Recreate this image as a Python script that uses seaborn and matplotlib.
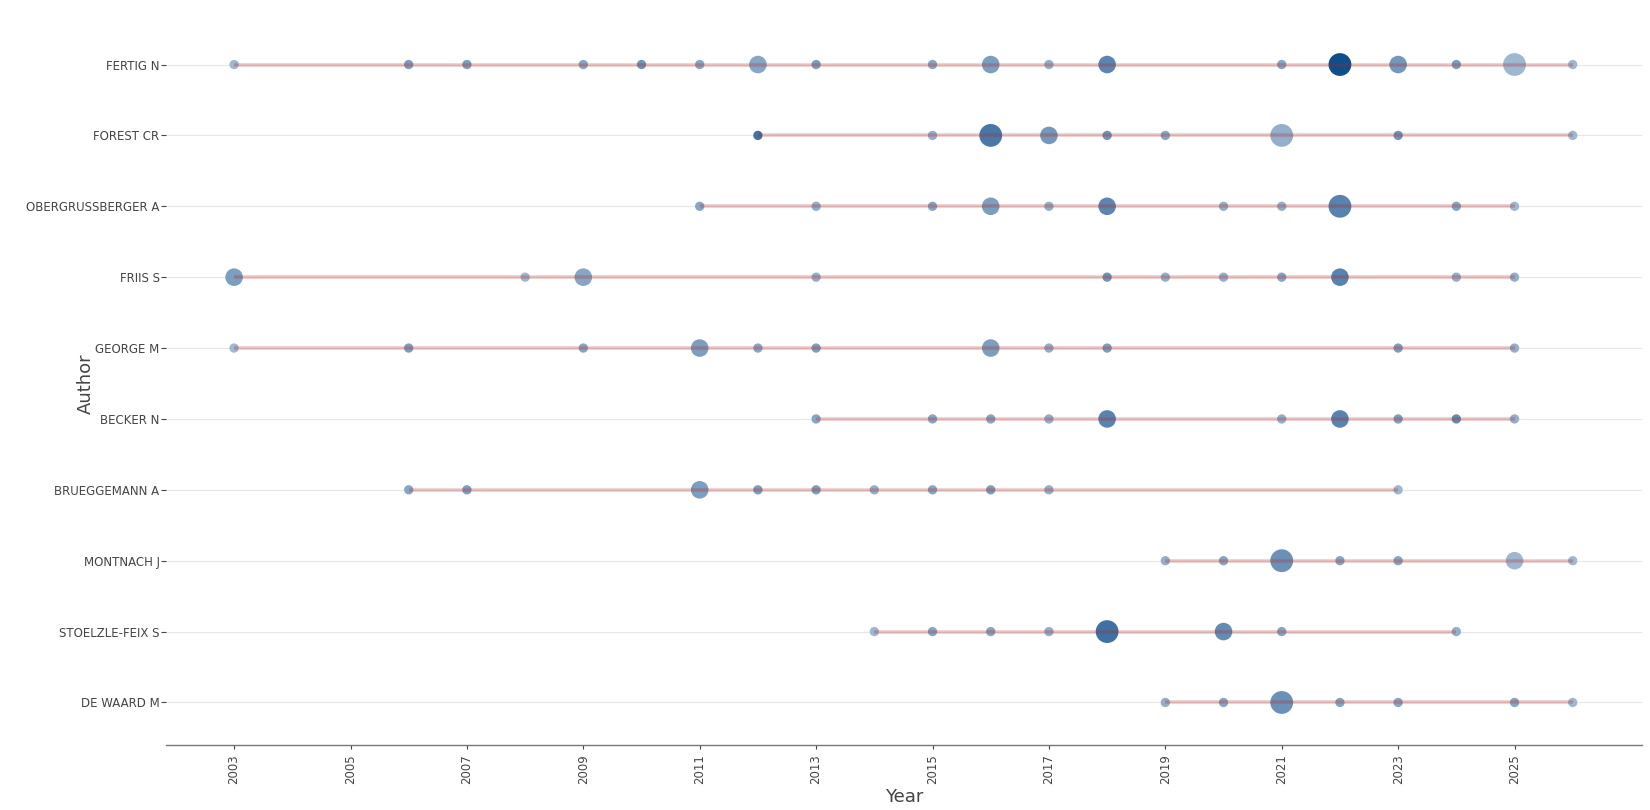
import matplotlib
matplotlib.use("Agg")
import matplotlib.pyplot as plt
from matplotlib.colors import LinearSegmentedColormap
import seaborn as sns
import pandas as pd

# ---------------- data ----------------
authors = ["FERTIG N", "FOREST CR", "OBERGRUSSBERGER A", "FRIIS S", "GEORGE M",
           "BECKER N", "BRUEGGEMANN A", "MONTNACH J", "STOELZLE-FEIX S", "DE WAARD M"]

fertig_years = [2003, 2006, 2007, 2009, 2010, 2011, 2012, 2013, 2015, 2016, 2017, 2018, 2021, 2022, 2023, 2024, 2025, 2026]
fertig_freq  = [1, 1, 1, 1, 1, 1, 2, 1, 1, 2, 1, 2, 1, 3, 2, 1, 3, 1]
fertig_tcpy  = [0.40, 0.55, 0.55, 0.50, 0.60, 0.50, 0.50, 0.55, 0.50, 0.55, 0.45, 0.68, 0.50, 1.00, 0.58, 0.55, 0.40, 0.40]

forest_years = [2012, 2015, 2016, 2017, 2018, 2019, 2021, 2023, 2026]
forest_freq  = [1, 1, 3, 2, 1, 1, 3, 1, 1]
forest_tcpy  = [0.80, 0.45, 0.76, 0.58, 0.60, 0.50, 0.45, 0.60, 0.40]

oberg_years = [2011, 2013, 2015, 2016, 2017, 2018, 2020, 2021, 2022, 2024, 2025]
oberg_freq  = [1, 1, 1, 2, 1, 2, 1, 1, 3, 1, 1]
oberg_tcpy  = [0.50, 0.45, 0.50, 0.55, 0.45, 0.68, 0.45, 0.45, 0.70, 0.50, 0.40]

friis_years = [2003, 2008, 2009, 2013, 2018, 2019, 2020, 2021, 2022, 2024, 2025]
friis_freq  = [2, 1, 2, 1, 1, 1, 1, 1, 2, 1, 1]
friis_tcpy  = [0.55, 0.40, 0.50, 0.45, 0.60, 0.45, 0.45, 0.50, 0.70, 0.45, 0.45]

george_years = [2003, 2006, 2009, 2011, 2012, 2013, 2016, 2017, 2018, 2023, 2025]
george_freq  = [1, 1, 1, 2, 1, 1, 2, 1, 1, 1, 1]
george_tcpy  = [0.40, 0.55, 0.50, 0.55, 0.50, 0.55, 0.55, 0.45, 0.55, 0.55, 0.45]

becker_years = [2013, 2015, 2016, 2017, 2018, 2021, 2022, 2023, 2024, 2025]
becker_freq  = [1, 1, 1, 1, 2, 1, 2, 1, 1, 1]
becker_tcpy  = [0.50, 0.50, 0.50, 0.45, 0.70, 0.45, 0.70, 0.55, 0.65, 0.45]

brueg_years = [2006, 2007, 2011, 2012, 2013, 2014, 2015, 2016, 2017, 2023]
brueg_freq  = [1, 1, 2, 1, 1, 1, 1, 1, 1, 1]
brueg_tcpy  = [0.50, 0.55, 0.55, 0.55, 0.55, 0.45, 0.50, 0.55, 0.45, 0.40]

montnach_years = [2019, 2020, 2021, 2022, 2023, 2025, 2026]
montnach_freq  = [1, 1, 3, 1, 1, 2, 1]
montnach_tcpy  = [0.45, 0.50, 0.62, 0.50, 0.50, 0.40, 0.40]

stoelzle_years = [2014, 2015, 2016, 2017, 2018, 2020, 2021, 2024]
stoelzle_freq  = [1, 1, 1, 1, 3, 2, 1, 1]
stoelzle_tcpy  = [0.40, 0.50, 0.50, 0.45, 0.80, 0.65, 0.50, 0.45]

dewaard_years = [2019, 2020, 2021, 2022, 2023, 2025, 2026]
dewaard_freq  = [1, 1, 3, 1, 1, 1, 1]
dewaard_tcpy  = [0.45, 0.50, 0.62, 0.50, 0.50, 0.50, 0.40]

year_ticks = [2003, 2005, 2007, 2009, 2011, 2013, 2015, 2017, 2019, 2021, 2023, 2025]

series = [
    (fertig_years, fertig_freq, fertig_tcpy),
    (forest_years, forest_freq, forest_tcpy),
    (oberg_years, oberg_freq, oberg_tcpy),
    (friis_years, friis_freq, friis_tcpy),
    (george_years, george_freq, george_tcpy),
    (becker_years, becker_freq, becker_tcpy),
    (brueg_years, brueg_freq, brueg_tcpy),
    (montnach_years, montnach_freq, montnach_tcpy),
    (stoelzle_years, stoelzle_freq, stoelzle_tcpy),
    (dewaard_years, dewaard_freq, dewaard_tcpy),
]

rows = []
for i, (name, (ys, fs, ts)) in enumerate(zip(authors, series)):
    for y, f, t in zip(ys, fs, ts):
        rows.append({"Author": name, "pos": i, "Year": y, "freq": f, "TCpY": t})
df = pd.DataFrame(rows)

# ---------------- plot ----------------
sns.set_theme(style="white")
plt.rcParams["font.family"] = ["DejaVu Sans"]

fig = plt.figure(figsize=(16.5, 8.1), dpi=100)
ax = fig.add_axes([166 / 1650, 65 / 810, 1476 / 1650, 723 / 810])

text_color = "#444444"
cmap = LinearSegmentedColormap.from_list("blue_alpha", ["#ffffff", "#104E8B"])

# gridlines
for i in range(len(authors)):
    ax.axhline(i, color="#e6e6e6", lw=0.8, zorder=0)

sns.scatterplot(data=df, x="Year", y="pos", hue="TCpY", size="freq",
                palette=cmap, hue_norm=(0, 1),
                sizes={1: 45, 2: 160, 3: 270},
                linewidth=0, legend=False, ax=ax, zorder=3)

# firebrick span lines on top of the points
for i, (ys, fs, ts) in enumerate(series):
    ax.plot([min(ys), max(ys)], [i, i], color="#B22222", alpha=0.19, lw=3.0,
            solid_capstyle="butt", zorder=4)
    ax.plot([min(ys), max(ys)], [i, i], color="#B22222", alpha=0.14, lw=1.1,
            solid_capstyle="butt", zorder=5)

ax.set_xlim(2001.83, 2027.19)
ax.set_ylim(len(authors) - 1 + 0.6, -0.6)

ax.set_yticks(range(len(authors)))
ax.set_yticklabels(authors)
ax.set_xticks(year_ticks)
ax.set_xticklabels([str(y) for y in year_ticks], rotation=90)

ax.tick_params(axis="y", length=3.6, width=0.8, color=text_color, pad=1,
               labelsize=8.5, labelcolor=text_color, left=True)
ax.tick_params(axis="x", length=2.9, width=0.8, color=text_color, pad=4,
               labelsize=8.5, labelcolor=text_color, bottom=True)

for s in ["top", "right", "left"]:
    ax.spines[s].set_visible(False)
ax.spines["bottom"].set_color("#777777")
ax.spines["bottom"].set_linewidth(1.0)

ax.set_xlabel("Year", fontsize=13, color=text_color)
ax.set_ylabel("Author", fontsize=13, color=text_color)
ax.xaxis.set_label_coords(0.5, -0.060)
ax.yaxis.set_label_coords(-0.048, 0.5)

fig.savefig("out.png", dpi=100, facecolor="white")
